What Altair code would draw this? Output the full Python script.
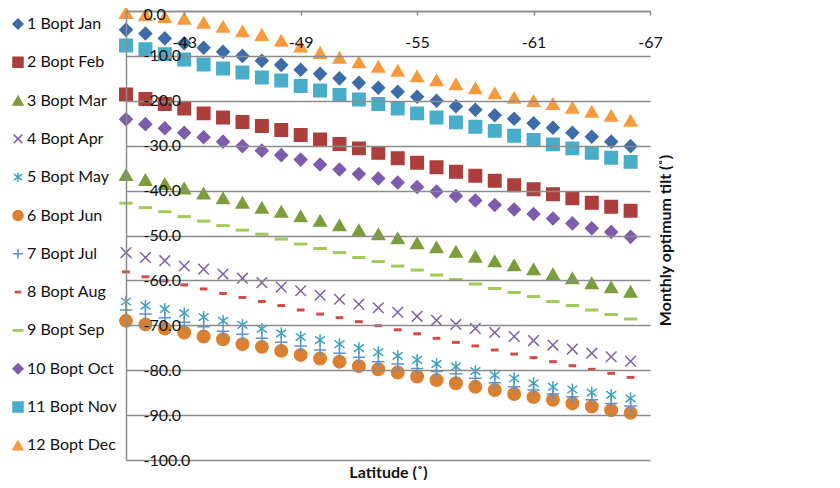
import altair as alt
import pandas as pd

latitude = [-40, -41, -42, -43, -44, -45, -46, -47, -48, -49, -50, -51, -52, -53,
            -54, -55, -56, -57, -58, -59, -60, -61, -62, -63, -64, -65, -66]

series_names = ["1 Bopt Jan", "2 Bopt Feb", "3 Bopt Mar", "4 Bopt Apr", "5 Bopt May",
                "6 Bopt Jun", "7 Bopt Jul", "8 Bopt Aug", "9 Bopt Sep", "10 Bopt Oct",
                "11 Bopt Nov", "12 Bopt Dec"]

jan = [-4.2, -5.0, -6.1, -7.2, -8.2, -9.1, -10.0, -11.1, -12.0, -13.1, -14.0, -15.0, -16.0, -17.1,
       -18.0, -19.1, -20.0, -21.2, -22.0, -23.2, -24.0, -25.0, -26.0, -27.1, -28.0, -29.1, -30.1]
feb = [-18.6, -19.6, -20.7, -21.7, -22.8, -23.7, -24.7, -25.6, -26.5, -27.6, -28.6, -29.6, -30.6, -31.6,
       -32.8, -33.8, -34.8, -35.8, -36.7, -37.8, -38.8, -39.7, -40.8, -41.7, -42.7, -43.6, -44.5]
mar = [-36.5, -37.6, -38.5, -39.5, -40.6, -41.7, -42.7, -43.8, -44.7, -45.7, -46.7, -47.7, -48.8, -49.7,
       -50.6, -51.7, -52.6, -53.6, -54.7, -55.7, -56.6, -57.5, -58.6, -59.5, -60.6, -61.5, -62.5]
apr = [-53.8, -54.9, -55.6, -56.8, -57.5, -58.6, -59.5, -60.5, -61.5, -62.3, -63.3, -64.2, -65.3, -66.1,
       -67.1, -68.0, -68.9, -69.8, -70.7, -71.6, -72.5, -73.4, -74.4, -75.3, -76.2, -77.0, -78.0]
may = [-64.7, -65.6, -66.4, -67.3, -68.2, -69.0, -69.9, -70.8, -71.8, -72.6, -73.3, -74.2, -75.1, -76.0,
       -76.8, -77.7, -78.6, -79.2, -80.2, -81.1, -81.8, -82.9, -83.7, -84.3, -85.0, -85.5, -86.3]
jun = [-69.0, -69.8, -70.7, -71.6, -72.5, -73.1, -74.2, -74.8, -75.7, -76.6, -77.4, -78.1, -79.1, -79.8,
       -80.5, -81.4, -82.2, -82.9, -83.7, -84.4, -85.3, -86.0, -86.6, -87.4, -88.1, -88.9, -89.5]
jul = [-66.6, -67.5, -68.3, -69.3, -70.3, -71.3, -72.0, -72.9, -73.8, -74.6, -75.5, -76.2, -77.1, -78.1,
       -78.6, -79.6, -80.3, -80.8, -81.8, -82.8, -83.7, -84.4, -85.3, -85.9, -86.6, -87.4, -88.0]
aug = [-58.1, -59.2, -60.1, -61.0, -61.9, -62.9, -63.8, -64.7, -65.6, -66.6, -67.5, -68.3, -69.2, -70.1,
       -71.0, -71.9, -72.9, -73.8, -74.6, -75.5, -76.4, -77.2, -78.1, -79.0, -79.8, -80.7, -81.6]
sep = [-42.8, -43.8, -44.7, -45.8, -46.8, -47.8, -48.8, -49.7, -50.8, -51.9, -52.9, -53.8, -54.9, -55.8,
       -56.8, -57.7, -58.8, -59.8, -60.8, -61.8, -62.7, -63.6, -64.7, -65.6, -66.6, -67.6, -68.6]
oct_ = [-24.1, -25.2, -26.1, -27.1, -28.1, -29.1, -30.1, -31.1, -32.1, -33.1, -34.2, -35.3, -36.3, -37.3,
        -38.2, -39.2, -40.2, -41.2, -42.2, -43.2, -44.2, -45.2, -46.2, -47.3, -48.4, -49.2, -50.3]
nov = [-7.7, -8.5, -9.6, -10.8, -11.9, -12.8, -13.7, -14.8, -15.5, -16.7, -17.7, -18.7, -19.7, -20.7,
       -21.7, -22.8, -23.7, -24.8, -25.8, -26.7, -27.8, -28.7, -29.7, -30.6, -31.6, -32.7, -33.6]
dec = [-0.4, -0.9, -1.3, -1.7, -2.6, -3.5, -4.5, -5.3, -6.6, -7.9, -9.3, -10.4, -11.4, -12.4,
       -13.3, -14.5, -15.4, -16.3, -17.2, -18.3, -19.3, -20.0, -20.7, -21.5, -22.4, -23.3, -24.4]

all_series = [jan, feb, mar, apr, may, jun, jul, aug, sep, oct_, nov, dec]

x_ticks = [-43, -49, -55, -61, -67]
y_ticks = [-100, -90, -80, -70, -60, -50, -40, -30, -20, -10, 0]

colors = ["#3d6ca8", "#ac3e3b", "#7c9e3a", "#7e62a8", "#3fa3bf", "#dc7f2f",
          "#5a92d6", "#d44a45", "#9fcb58", "#7d5cae", "#47adc9", "#f79a3e"]

X_SHAPE = "M-0.85,-0.85L0.85,0.85M-0.85,0.85L0.85,-0.85"
STAR = "M0,-0.95L0,0.95M-0.8,-0.6L0.8,0.6M-0.8,0.6L0.8,-0.6"
PLUS = "M-1,0L1,0M0,-1L0,1"
DASH_S = "M-0.5,-0.12L0.5,-0.12L0.5,0.12L-0.5,0.12Z"
DASH_L = "M-0.95,-0.12L0.95,-0.12L0.95,0.12L-0.95,0.12Z"
shapes = ["diamond", "square", "triangle-up", X_SHAPE, STAR, "circle",
          PLUS, DASH_S, DASH_L, "diamond", "square", "triangle-up"]

rows = []
for name, vals in zip(series_names, all_series):
    for lat, v in zip(latitude, vals):
        rows.append({"lat": lat, "tilt": v, "series": name})
df = pd.DataFrame(rows)

FONT = "Lato"
GRID = "#8c8c8c"

legend = alt.Legend(orient="none", legendX=-116, legendY=5, title=None,
                    labelFont=FONT, labelFontSize=16, labelColor="#111",
                    symbolSize=100, symbolStrokeWidth=1.5, rowPadding=22.3,
                    labelOffset=1, padding=0)

chart = alt.Chart(df).mark_point(filled=True, size=155, strokeWidth=1.5, opacity=1).encode(
    x=alt.X("lat:Q",
            scale=alt.Scale(domain=[-40, -67], nice=False, zero=False),
            axis=alt.Axis(orient="bottom", offset=-449, values=x_ticks,
                          labelExpr="'-' + abs(datum.value)",
                          tickSize=4, tickColor=GRID, tickWidth=1.5,
                          domainColor=GRID, domainWidth=1.5,
                          labelPadding=19, labelFont=FONT, labelFontSize=16,
                          labelColor="#111", labelFlush=False, labelOverlap=False,
                          grid=False, title="Latitude (˚)", titleY=461,
                          titleFont=FONT, titleFontSize=16, titleFontWeight="bold",
                          titleBaseline="middle", titleColor="#111", zindex=1)),
    y=alt.Y("tilt:Q",
            scale=alt.Scale(domain=[-100, 0], nice=False, zero=False),
            axis=alt.Axis(orient="left", values=y_ticks,
                          labelExpr="(datum.value < 0 ? '-' : '') + format(abs(datum.value), '.1f')",
                          ticks=False, tickSize=0, labelAlign="left", labelPadding=-17,
                          labelBaseline="middle",
                          labelOffset={"condition": {"test": "datum.value === 0", "value": 3}, "value": 0},
                          labelFont=FONT, labelFontSize=16,
                          labelColor="#111", labelFlush=False, labelOverlap=False,
                          grid=True, gridColor=GRID, gridWidth=1.5,
                          domainColor=GRID, domainWidth=1.5,
                          title="Monthly optimum tilt (˚)", titleAngle=270,
                          titleX=539, titleY=229, titleAlign="center",
                          titleBaseline="middle", titleFont=FONT, titleFontSize=16,
                          titleFontWeight="bold", titleColor="#111", zindex=1)),
    color=alt.Color("series:N", scale=alt.Scale(domain=series_names, range=colors), legend=legend),
    stroke=alt.Stroke("series:N", scale=alt.Scale(domain=series_names, range=colors), legend=legend),
    shape=alt.Shape("series:N", scale=alt.Scale(domain=series_names, range=shapes), legend=legend),
).properties(
    width=524, height=449,
    autosize=alt.AutoSizeParams(type="none"),
    padding={"left": 118, "top": 3, "right": 170, "bottom": 20},
    background="white",
).configure_view(stroke=None)

chart.save("out.html", embed_options={"renderer": "svg", "actions": False})
